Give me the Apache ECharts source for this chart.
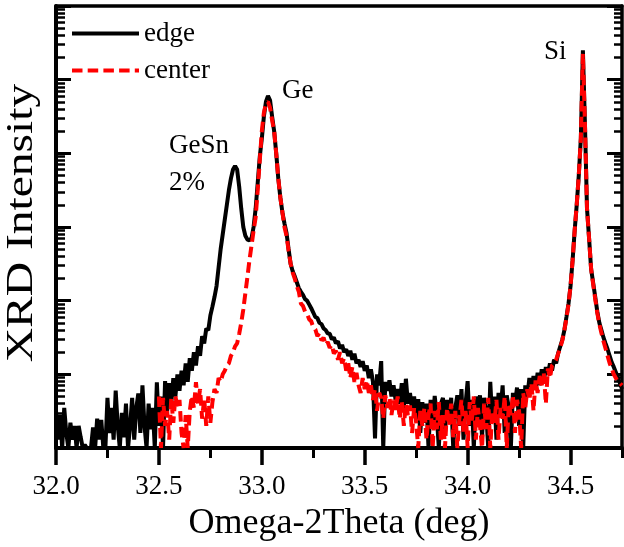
<!DOCTYPE html>
<html><head><meta charset="utf-8">
<script src="https://cdn.jsdelivr.net/npm/echarts@6/dist/echarts.min.js"></script>
<style>html,body{margin:0;padding:0;background:#fff}#c{width:624px;height:547px}</style>
</head><body><div id="c"></div>
<script>
// sampling grid of the scans (deg)
const edgeStart = 32.00;
const centerStart = 32.50;
const xStep = 0.01;

// XRD intensity (counts), one value per 0.01 deg
const edgeValues = [
  3.2, 1.3, 2.8, 1, 3.5, 1.6, 1, 2.2, 1.3, 2,
  1, 2, 1.4, 1, 1.1, 1, 1, 1, 1.9, 1,
  2.5, 1.3, 2.4, 1, 1, 4.8, 1.6, 3.5, 1.3, 6,
  2, 1, 3, 1.4, 4, 1, 2, 4.8, 1.3, 3.5,
  5.5, 1.6, 7.1, 2, 1, 4, 1.8, 3.5, 1, 7.8,
  2, 5, 1, 8.1, 3.2, 7.6, 4, 8.9, 5, 10,
  6, 11.2, 7.1, 14.1, 7.9, 16.6, 11.2, 20, 13.2, 24,
  17.8, 33, 26.3, 41.7, 39.8, 63, 83, 112, 158, 282,
  501, 794, 1259, 1995, 3162, 4571, 6026, 6761, 6026, 3548,
  1778, 1000, 759, 676, 661, 708, 1000, 1778, 3981, 8913,
  15849, 31623, 50119, 60256, 52481, 31623, 19953, 10000, 4571, 2512,
  1585, 1122, 832, 501, 316, 251, 214, 178, 148, 132,
  120, 105, 100, 89, 79, 69, 60, 58, 50, 48,
  42, 40, 36, 35.5, 30, 31.6, 26.3, 28.2, 22.4, 25.1,
  20, 21.9, 17.8, 20.9, 15.8, 19.1, 14.1, 15.8, 12.6, 15.1,
  11.2, 13.2, 8.9, 11.7, 7.9, 1.35, 10, 7.1, 15.1, 1,
  7.9, 6, 8.3, 5, 7.1, 4.5, 6.3, 4, 7.6, 3.5,
  8.7, 4, 5.6, 3.2, 5, 2.5, 4.6, 1.6, 4.2, 2.2,
  4, 1, 4.5, 2, 5.1, 2.8, 1, 4, 4.8, 1.6,
  4.5, 2.5, 4.8, 1, 3.5, 5.2, 2, 6.3, 1.3, 4,
  8.1, 2, 4.5, 1, 5, 2.5, 5.2, 1.4, 4.8, 3.2,
  1, 7.9, 2.2, 5, 1.3, 5.6, 3.2, 7.1, 1.6, 5.2,
  3.5, 1, 5.6, 4, 6.6, 2, 6.3, 1, 7.1, 5,
  8.9, 5.6, 9.5, 6.3, 10.5, 7.1, 11.7, 7.9, 12.6, 10,
  14.1, 11.2, 15.8, 14.1, 19.5, 24, 29.5, 39.8, 60, 91,
  158, 355, 891, 1995, 5012, 15849, 251189, 25119, 1778, 708,
  269, 174, 112, 71, 50, 39.8, 31.6, 26.3, 21.9, 17.8,
  14.5, 12.6, 10.7, 8.9, 7.6, 6.3
];
const centerValues = [
  5, 1, 4.8, 2, 3.2, 1.3, 4.7, 2.2, 5.1, 3.5,
  4.5, 1.6, 1, 2.8, 1, 3.2, 5.1, 3.5, 7.8, 4,
  6.3, 2.5, 4.7, 2, 5, 2.2, 4.2, 6.3, 5.6, 8.9,
  7.9, 10, 11.2, 13.2, 14.1, 17.8, 20, 24, 26.3, 35.5,
  50, 76, 126, 209, 355, 562, 891, 1349, 3162, 7943,
  19953, 35481, 47863, 50119, 41687, 28184, 19953, 10000, 4571, 2512,
  1585, 1000, 759, 479, 316, 240, 200, 158, 132, 91,
  85, 71, 66, 56, 52.5, 43.7, 40.7, 33, 36.3, 28.8,
  31.6, 25.1, 27.5, 22.9, 25.1, 19.1, 20.9, 15.8, 20, 14.1,
  16.6, 11.2, 14.1, 8.9, 12.6, 7.9, 10.5, 7.1, 5.6, 8.9,
  6.3, 8.3, 5.6, 7.1, 4.5, 6.3, 3.2, 5.6, 4.8, 2.5,
  5.2, 3.5, 4.8, 2.8, 4.5, 3.3, 5, 2.5, 4.2, 2,
  4, 2.8, 3.8, 1.6, 3.5, 2.2, 1, 3.2, 2, 3.5,
  1.3, 2.8, 4, 1, 3.2, 1.8, 4.2, 1.3, 2.8, 1,
  3.5, 2, 4, 1.4, 3.2, 1, 2.5, 4.5, 1.6, 3.2,
  1, 4.2, 2.2, 5, 1.3, 3.5, 2, 1, 4, 1.8,
  4.8, 1, 3.2, 2.2, 4.5, 1.3, 3.5, 2.5, 5, 1,
  4, 2.8, 5.2, 1.6, 4.5, 3.2, 1, 5.6, 3.5, 6.3,
  4.5, 7.6, 3.2, 8.3, 5.6, 9.5, 7.1, 10.5, 4, 12,
  8.9, 13.2, 14.1, 15.8, 19.1, 22.9, 28.8, 39.8, 57.5, 89,
  158, 355, 891, 1995, 5012, 15849, 223872, 25119, 1778, 708,
  269, 166, 105, 68, 48, 36.3, 28.2, 22.4, 17.8, 14.1,
  12, 10, 8.9, 7.9, 7.6, 7.1
];

const seriesNames = ['edge', 'center'];
const xMajorTicks = [32.0, 32.5, 33.0, 33.5, 34.0, 34.5];
const xMinorTicks = [32.25, 32.75, 33.25, 33.75, 34.25, 34.75];
const yDecades = [1, 10, 100, 1000, 10000, 100000, 1000000];
const yMinorMultipliers = [2, 3, 4, 5, 6, 7, 8, 9];

const yMinorTicks = [];
yDecades.slice(0, -1).forEach(d => yMinorMultipliers.forEach(m => yMinorTicks.push(m * d)));
const toPairs = (x0, vals) => vals.map((v, i) => [+(x0 + i * xStep).toFixed(2), v]);

const FONT = '"Liberation Serif", "Times New Roman", serif';
const BLACK = '#000';

function xAx(extra) {
  return Object.assign({
    type: 'value', min: 32, max: 34.75, position: 'bottom',
    axisLine: { show: false, onZero: false },
    axisTick: { show: false },
    axisLabel: { show: false },
    splitLine: { show: false }
  }, extra);
}
function yAx(extra) {
  return Object.assign({
    type: 'log', logBase: 10, min: 1, max: 1000000, position: 'left',
    axisLine: { show: false, onZero: false },
    axisTick: { show: false },
    axisLabel: { show: false },
    splitLine: { show: false }
  }, extra);
}

const chart = echarts.init(document.getElementById('c'), null, { renderer: 'canvas' });
chart.setOption({
  animation: false,
  backgroundColor: '#fff',
  grid: { left: 56, right: 2, top: 6, bottom: 94 },
  legend: {
    data: seriesNames, orient: 'vertical', left: 70, top: 20, padding: 0,
    itemWidth: 67, itemHeight: 14, itemGap: 10,
    itemStyle: { opacity: 0, color: 'rgba(0,0,0,0)', borderWidth: 0 },
    lineStyle: { width: 4 },
    textStyle: { fontFamily: FONT, fontSize: 27, color: BLACK }
  },
  xAxis: [
    xAx({
      axisLine: { show: true, onZero: false, lineStyle: { color: BLACK, width: 4 } },
      axisTick: { show: true, inside: false, length: 17, customValues: xMajorTicks, lineStyle: { color: BLACK, width: 3.5 } },
      axisLabel: { show: true, customValues: xMajorTicks, formatter: v => v.toFixed(1), fontFamily: FONT, fontSize: 27, color: BLACK, margin: 25 },
      name: 'Omega-2Theta (deg)', nameLocation: 'middle', nameGap: 58,
      nameTextStyle: { fontFamily: FONT, fontSize: 36, color: BLACK }
    }),
    xAx({
      axisTick: { show: true, inside: false, length: 10, customValues: xMinorTicks, lineStyle: { color: BLACK, width: 3 } }
    }),
    xAx({
      position: 'top',
      axisLine: { show: true, onZero: false, lineStyle: { color: BLACK, width: 3.5 } }
    })
  ],
  yAxis: [
    yAx({
      axisLine: { show: true, onZero: false, lineStyle: { color: BLACK, width: 4 } },
      axisTick: { show: true, inside: true, length: 15, customValues: yDecades, lineStyle: { color: BLACK, width: 3 } }
    }),
    yAx({
      axisTick: { show: true, inside: true, length: 9, customValues: yMinorTicks, lineStyle: { color: BLACK, width: 2.5 } }
    }),
    yAx({
      position: 'right',
      axisLine: { show: true, onZero: false, lineStyle: { color: BLACK, width: 3.5 } },
      axisTick: { show: true, inside: true, length: 15, customValues: yDecades, lineStyle: { color: BLACK, width: 3 } }
    }),
    yAx({
      position: 'right',
      axisTick: { show: true, inside: true, length: 8, customValues: yMinorTicks, lineStyle: { color: BLACK, width: 2.5 } }
    })
  ],
  graphic: [
    { type: 'text', x: 22, y: 223, rotation: Math.PI / 2, scaleX: 1.25,
      style: { text: 'XRD Intensity', font: '38px ' + FONT, fill: BLACK, align: 'center', verticalAlign: 'middle' } },
    { type: 'text', x: 169, y: 146, style: { text: 'GeSn', font: '27px ' + FONT, fill: BLACK, align: 'left', verticalAlign: 'middle' } },
    { type: 'text', x: 169, y: 183, style: { text: '2%', font: '27px ' + FONT, fill: BLACK, align: 'left', verticalAlign: 'middle' } },
    { type: 'text', x: 282, y: 91, style: { text: 'Ge', font: '27px ' + FONT, fill: BLACK, align: 'left', verticalAlign: 'middle' } },
    { type: 'text', x: 544, y: 52, style: { text: 'Si', font: '27px ' + FONT, fill: BLACK, align: 'left', verticalAlign: 'middle' } }
  ],
  series: [
    {
      name: seriesNames[0], type: 'line', xAxisIndex: 0, yAxisIndex: 0,
      data: toPairs(edgeStart, edgeValues),
      symbol: 'none', showSymbol: false, clip: true,
      lineStyle: { color: BLACK, width: 4 }, itemStyle: { color: BLACK }
    },
    {
      name: seriesNames[1], type: 'line', xAxisIndex: 0, yAxisIndex: 0,
      data: toPairs(centerStart, centerValues),
      symbol: 'none', showSymbol: false, clip: true,
      lineStyle: { color: '#ff0000', width: 4, type: [10.5, 5.2] }, itemStyle: { color: '#ff0000' }
    }
  ]
});
</script></body></html>
